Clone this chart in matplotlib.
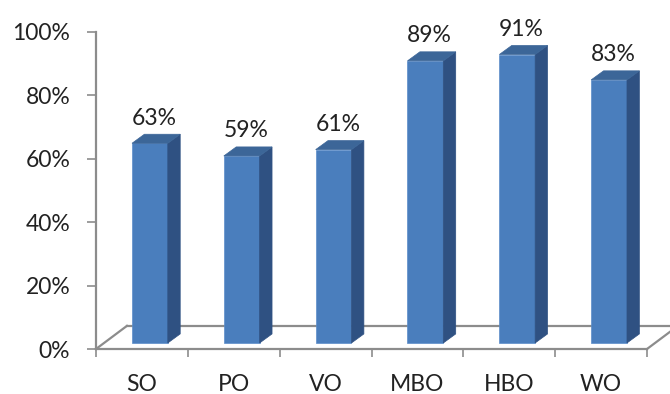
import matplotlib
matplotlib.use("Agg")
import matplotlib.pyplot as plt
from matplotlib.patches import Polygon
from matplotlib.lines import Line2D

categories = ["SO", "PO", "VO", "MBO", "HBO", "WO"]
values = [63, 59, 61, 89, 91, 83]
y_ticks = [0, 20, 40, 60, 80, 100]
y_tick_labels = ["0%", "20%", "40%", "60%", "80%", "100%"]

plt.rcParams["font.family"] = ["Lato", "DejaVu Sans"]

FRONT = "#4A7EBD"
SIDE = "#2F5182"
TOP = "#3C6698"
AXIS = "#8C8C8C"
TEXT = "#222222"
FS = 16.5

fig = plt.figure(figsize=(6.70, 3.94), dpi=100)
ax = fig.add_axes([96 / 670, 45 / 394, 551 / 670, 317 / 394])
ax.set_xlim(-0.5, len(categories) - 0.5)
ax.set_ylim(0, 100)

# depth of the floor (category units, percent units)
floor_dx, floor_dy = 0.337, 7.3
# bars sit a little behind the front edge of the floor
bar_dx, bar_dy = 0.087, 1.9
bar_w = 0.39
# depth of each bar
depth_dx, depth_dy = 0.135, 2.85

n = len(categories)
x0, x1 = -0.5, n - 0.5
floor_kw = dict(color=AXIS, lw=1.6, clip_on=False, zorder=1)
ax.add_line(Line2D([x0 + floor_dx, x1 + floor_dx], [floor_dy, floor_dy], **floor_kw))
ax.add_line(Line2D([x0, x0 + floor_dx], [0, floor_dy], **floor_kw))
ax.add_line(Line2D([x1, x1 + floor_dx], [0, floor_dy], **floor_kw))

for i, v in enumerate(values):
    cx = i + bar_dx
    left, right = cx - bar_w / 2, cx + bar_w / 2
    base, top = bar_dy, bar_dy + v
    ax.bar(cx, v, width=bar_w, bottom=base, color=FRONT, zorder=3,
           edgecolor="#5B8DC9", linewidth=0.5)
    side = Polygon([(right, base), (right + depth_dx, base + depth_dy),
                    (right + depth_dx, top + depth_dy), (right, top)],
                   closed=True, facecolor=SIDE, edgecolor=SIDE, lw=0.5, zorder=3)
    lid = Polygon([(left, top), (right, top), (right + depth_dx, top + depth_dy),
                   (left + depth_dx, top + depth_dy)],
                  closed=True, facecolor=TOP, edgecolor=TOP, lw=0.5, zorder=3)
    ax.add_patch(side)
    ax.add_patch(lid)
    ax.text(cx + depth_dx / 2 - 0.02, top + depth_dy + 1.8, f"{v}%", ha="center",
            va="bottom", fontsize=FS, color=TEXT, zorder=4)

for s in ("top", "right"):
    ax.spines[s].set_visible(False)
for s in ("left", "bottom"):
    ax.spines[s].set_color(AXIS)
    ax.spines[s].set_linewidth(1.6)
    ax.spines[s].set_zorder(2)

ax.set_yticks(y_ticks)
ax.set_yticklabels(y_tick_labels)
ax.tick_params(axis="y", length=6.5, width=1.2, color=AXIS, pad=12,
               labelsize=FS, labelcolor=TEXT)

ax.set_xticks([b - 0.5 for b in range(n + 1)])
ax.set_xticklabels([])
ax.tick_params(axis="x", which="major", length=6, width=1.2, color=AXIS)
ax.set_xticks(range(n), minor=True)
ax.set_xticklabels(categories, minor=True)
ax.tick_params(axis="x", which="minor", length=0, pad=18,
               labelsize=FS, labelcolor=TEXT)

fig.savefig("out.png", dpi=100)
